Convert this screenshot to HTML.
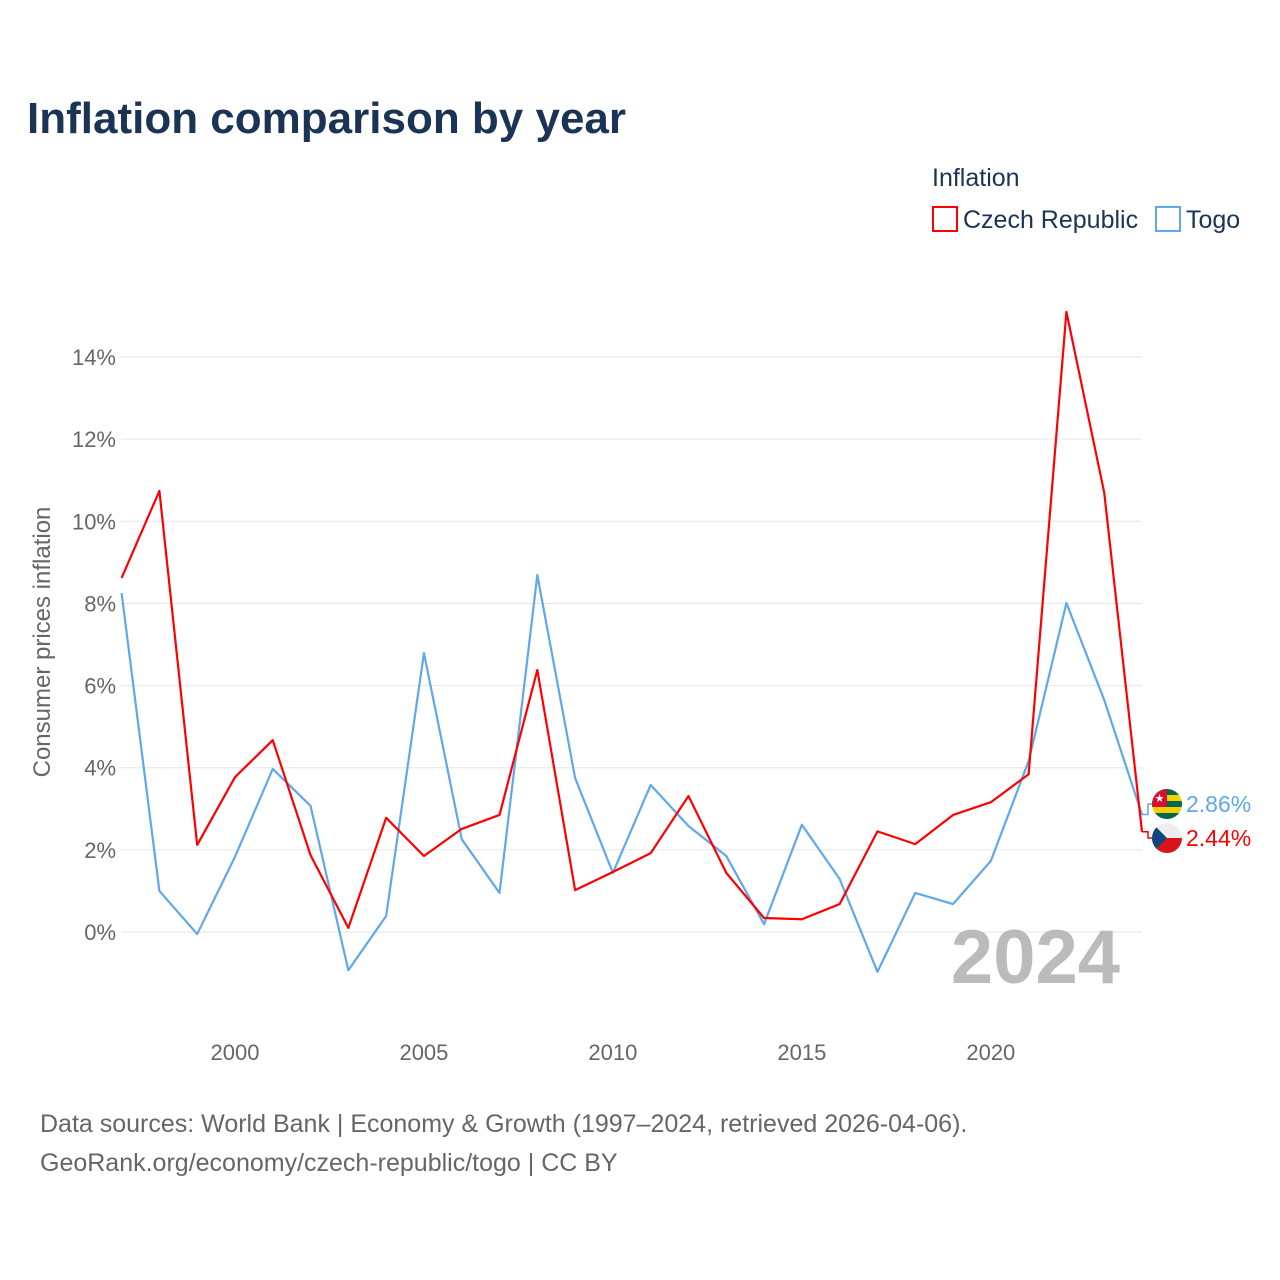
<!DOCTYPE html>
<html><head><meta charset="utf-8"><style>
body{margin:0;background:#fff;font-family:"Liberation Sans",sans-serif;}
#wrap{position:relative;width:1280px;height:1280px;overflow:hidden;}
</style></head><body>
<div id="wrap">
<svg id="chart" width="1280" height="1280" font-family="Liberation Sans, sans-serif">
<text x="27" y="133" font-size="44" font-weight="bold" fill="#1b3354">Inflation comparison by year</text>
<text x="932" y="186" font-size="25" fill="#1b3354">Inflation</text>
<g><rect x="933" y="207" width="24" height="24" fill="none" stroke="#f00" stroke-width="2"/><text x="963" y="228" font-size="25" fill="#1b3354">Czech Republic</text></g>
<g><rect x="1156" y="207" width="24" height="24" fill="none" stroke="#5fa8ec" stroke-width="2"/><text x="1186" y="228" font-size="25" fill="#1b3354">Togo</text></g>
<text transform="translate(50,642) rotate(-90)" text-anchor="middle" font-size="24" fill="#666">Consumer prices inflation</text>
<g id="grid"></g><g id="series"></g>
<text x="1120" y="983" text-anchor="end" font-size="76" font-weight="bold" fill="#bbb">2024</text>
<text x="40" y="1132" font-size="25" fill="#666">Data sources: World Bank | Economy &amp; Growth (1997–2024, retrieved 2026-04-06).</text>
<text x="40" y="1171" font-size="25" fill="#666">GeoRank.org/economy/czech-republic/togo | CC BY</text>
</svg></div>
<script>
const years=[];for(let y=1997;y<=2024;y++)years.push(y);
const czech=[8.62,10.74,2.12,3.77,4.67,1.87,0.1,2.78,1.85,2.51,2.85,6.38,1.02,1.46,1.92,3.31,1.44,0.34,0.31,0.68,2.45,2.14,2.85,3.16,3.84,15.1,10.7,2.44];
const togo=[8.25,1.0,-0.05,1.83,3.97,3.07,-0.93,0.39,6.79,2.26,0.95,8.69,3.75,1.44,3.58,2.58,1.85,0.19,2.61,1.29,-0.97,0.95,0.68,1.73,4.16,8.01,5.65,2.86];
const yTicks=[0,2,4,6,8,10,12,14];
const xTicks=[2000,2005,2010,2015,2020];
const NS="http://www.w3.org/2000/svg";
const xs=v=>121.6+(v-1997)*(1142-121.6)/27;
const ys=v=>932-v*41.07;
function mk(t,a,p){const e=document.createElementNS(NS,t);for(const k in a)e.setAttribute(k,a[k]);p.appendChild(e);return e;}
const grid=document.getElementById('grid'),ser=document.getElementById('series');
yTicks.forEach(t=>{
 const l=mk('line',{x1:121,x2:1142,y1:ys(t),y2:ys(t),stroke:'#e6e6e6','stroke-width':1},grid);
 
 
 const tx=mk('text',{x:116,y:ys(t)+8,'text-anchor':'end','font-size':22,fill:'#666'},grid);tx.textContent=t+'%';
 
 
});
xTicks.forEach(t=>{
 const tx=mk('text',{x:xs(t),y:1060,'text-anchor':'middle','font-size':22,fill:'#666'},grid);tx.textContent=t;
 
 
});
function line(vals,col,name){
 const p=mk('polyline',{points:vals.map((v,i)=>xs(years[i])+','+ys(v)).join(' '),fill:'none',stroke:col,'stroke-width':2.2,'stroke-linejoin':'round'},ser);
 
 
}
line(togo,'#5fa8ec','togo-line');
line(czech,'#f00','czech-line');
// end labels
const lt=togo[togo.length-1],lc=czech[czech.length-1];
const ty=804,cy=838;
mk('polyline',{points:`${xs(2024)},${ys(lt)} ${xs(2024)+6},${ys(lt)} ${xs(2024)+6},${ty} 1152,${ty}`,fill:'none',stroke:'#5fa8ec','stroke-width':1.5},ser);
mk('polyline',{points:`${xs(2024)},${ys(lc)} ${xs(2024)+6},${ys(lc)} ${xs(2024)+6},${cy} 1152,${cy}`,fill:'none',stroke:'#f00','stroke-width':1.5},ser);
// togo flag
const fg=mk('g',{},ser);
mk('clipPath',{id:'c1'},fg).appendChild(Object.assign(document.createElementNS(NS,'circle'),{}));
fg.querySelector('clipPath circle').setAttribute('cx',1167);fg.querySelector('clipPath circle').setAttribute('cy',ty);fg.querySelector('clipPath circle').setAttribute('r',15);
const g1=mk('g',{'clip-path':'url(#c1)'},fg);
for(let i=0;i<5;i++)mk('rect',{x:1152,y:ty-15+i*6,width:30,height:6,fill:i%2?'#f5d000':'#006a4e'},g1);
mk('rect',{x:1152,y:ty-15,width:15,height:18,fill:'#d21034'},g1);
mk('text',{x:1159.5,y:ty-2,'text-anchor':'middle','font-size':11,fill:'#fff'},g1).textContent='★';
// czech flag
const cg=mk('g',{},ser);
const cp=mk('clipPath',{id:'c2'},cg);mk('circle',{cx:1167,cy:cy,r:15},cp);
const g2=mk('g',{'clip-path':'url(#c2)'},cg);
mk('rect',{x:1152,y:cy-15,width:30,height:15,fill:'#eee'},g2);
mk('rect',{x:1152,y:cy,width:30,height:15,fill:'#d7141a'},g2);
mk('polygon',{points:`1152,${cy-15} 1167,${cy} 1152,${cy+15}`,fill:'#11457e'},g2);
const t1=mk('text',{x:1186,y:ty+8,'font-size':23,fill:'#5fa8ec'},ser);t1.textContent=lt.toFixed(2)+'%';


const t2=mk('text',{x:1186,y:cy+8,'font-size':23,fill:'#f00'},ser);t2.textContent=lc.toFixed(2)+'%';


</script>
</body></html>
